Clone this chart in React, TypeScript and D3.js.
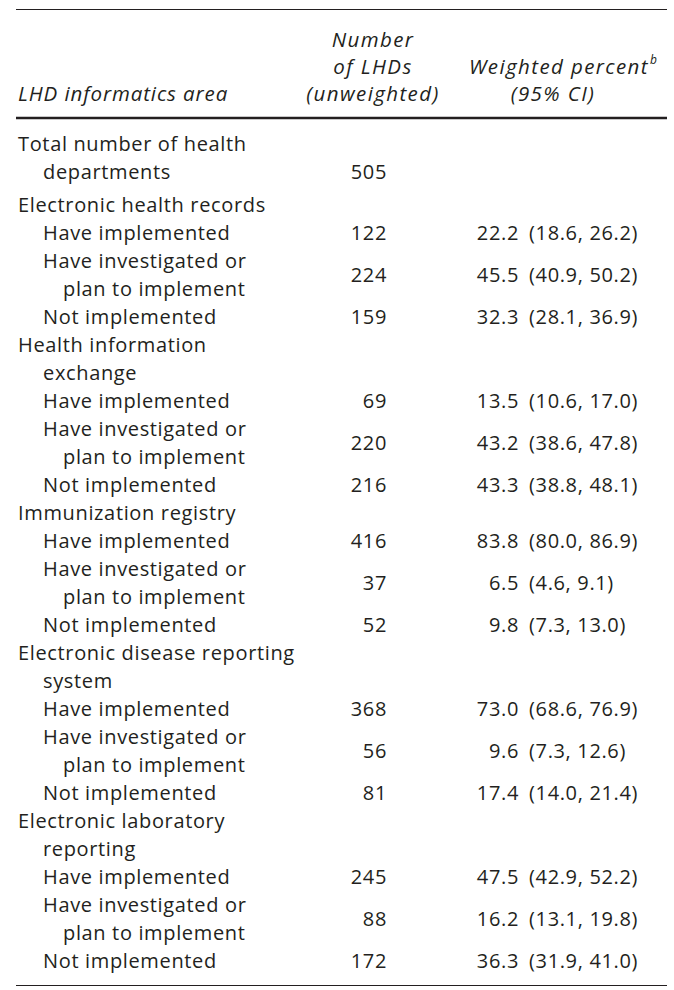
import React from "react";
import * as d3 from "d3";

// table content
const headerArea = ["LHD informatics area"];
const headerCount = ["Number", "of LHDs", "(unweighted)"];
const headerPct = ["Weighted percent", "(95% CI)"];
const headerPctNote = "b";

const totalLabel = ["Total number of health", "departments"];
const totalCount = 505;

const areaLabels = [
  ["Electronic health records"],
  ["Health information", "exchange"],
  ["Immunization registry"],
  ["Electronic disease reporting", "system"],
  ["Electronic laboratory", "reporting"],
];

const statusLabels = [
  ["Have implemented"],
  ["Have investigated or", "plan to implement"],
  ["Not implemented"],
];

const counts = [
  [122, 224, 159],
  [69, 220, 216],
  [416, 37, 52],
  [368, 56, 81],
  [245, 88, 172],
];

const percents = [
  [22.2, 45.5, 32.3],
  [13.5, 43.2, 43.3],
  [83.8, 6.5, 9.8],
  [73.0, 9.6, 17.4],
  [47.5, 16.2, 36.3],
];

const ciLow = [
  [18.6, 40.9, 28.1],
  [10.6, 38.6, 38.8],
  [80.0, 4.6, 7.3],
  [68.6, 7.3, 14.0],
  [42.9, 13.1, 31.9],
];

const ciHigh = [
  [26.2, 50.2, 36.9],
  [17.0, 47.8, 48.1],
  [86.9, 9.1, 13.0],
  [76.9, 12.6, 21.4],
  [52.2, 19.8, 41.0],
];

const W = 674;
const H = 990;
const FONT = "'Open Sans', Lato, sans-serif";
const INK = "#231f20";

type Cell = { key: string; x: number; y: number; text: string; anchor: string };

export default function App() {
  const fmt = d3.format(".1f");

  // column positions
  const col = d3
    .scaleOrdinal<string, number>()
    .domain(["label", "indent", "indent2", "count", "pct", "ci", "countHead", "pctHeadEnd", "pctHead"])
    .range([18, 43, 63, 387, 519, 529, 373, 649, 553]);

  // body line baselines (one extra gap after the total block)
  const lineScale = d3.scaleLinear().domain([0, 1]).range([151, 179]);
  const lineY = (i: number) => lineScale(i) + (i >= 2 ? 5 : 0);
  const headScale = d3.scaleLinear().domain([0, 1]).range([46.5, 73.5]);

  const cells: Cell[] = [];
  let line = 0;

  totalLabel.forEach((t, j) => {
    cells.push({ key: `tot${j}`, x: col(j === 0 ? "label" : "indent"), y: lineY(line + j), text: t, anchor: "start" });
  });
  cells.push({ key: "totn", x: col("count"), y: lineY(line + totalLabel.length - 1), text: String(totalCount), anchor: "end" });
  line += totalLabel.length;

  areaLabels.forEach((area, a) => {
    area.forEach((t, j) => {
      cells.push({ key: `a${a}-${j}`, x: col(j === 0 ? "label" : "indent"), y: lineY(line + j), text: t, anchor: "start" });
    });
    line += area.length;
    statusLabels.forEach((st, s) => {
      st.forEach((t, j) => {
        cells.push({ key: `s${a}-${s}-${j}`, x: col(j === 0 ? "indent" : "indent2"), y: lineY(line + j), text: t, anchor: "start" });
      });
      const yMid = (lineY(line) + lineY(line + st.length - 1)) / 2;
      cells.push({ key: `n${a}-${s}`, x: col("count"), y: yMid, text: String(counts[a][s]), anchor: "end" });
      cells.push({ key: `p${a}-${s}`, x: col("pct"), y: yMid, text: fmt(percents[a][s]), anchor: "end" });
      cells.push({
        key: `c${a}-${s}`,
        x: col("ci"),
        y: yMid,
        text: `(${fmt(ciLow[a][s])}, ${fmt(ciHigh[a][s])})`,
        anchor: "start",
      });
      line += st.length;
    });
  });

  const headBottom = headScale(headerCount.length - 1);

  return (
    <svg
      width={W}
      height={H}
      style={{ position: "absolute", left: 0, top: 0, background: "#fff" }}
      fontFamily={FONT}
      fontSize={20}
      fill={INK}
      letterSpacing={0.65}
    >
      <rect width={W} height={H} fill="#fff" />
      <line x1={16} x2={667} y1={9.5} y2={9.5} stroke={INK} strokeWidth={1.2} />
      <line x1={16} x2={667} y1={118} y2={118} stroke={INK} strokeWidth={2.6} />
      <line x1={16} x2={667} y1={985.5} y2={985.5} stroke={INK} strokeWidth={1.2} />

      {/* header */}
      <g fontStyle="italic" fontSize={20.5} letterSpacing={1.4}>
        <text x={col("label")} y={headBottom} letterSpacing={0.9}>{headerArea[0]}</text>
        {headerCount.map((t, i) => (
          <text key={t} x={col("countHead")} y={headScale(i)} textAnchor="middle">{t}</text>
        ))}
        <text x={col("pctHeadEnd")} y={headScale(1)} textAnchor="end">{headerPct[0]}</text>
        <text x={col("pctHeadEnd") + 1} y={headScale(1) - 10} fontSize={12} letterSpacing={0}>
          {headerPctNote}
        </text>
        <text x={col("pctHead")} y={headScale(2)} textAnchor="middle">{headerPct[1]}</text>
      </g>

      {/* body */}
      {cells.map((c) => (
        <text key={c.key} x={c.x} y={c.y} textAnchor={c.anchor as any}>
          {c.text}
        </text>
      ))}
    </svg>
  );
}
